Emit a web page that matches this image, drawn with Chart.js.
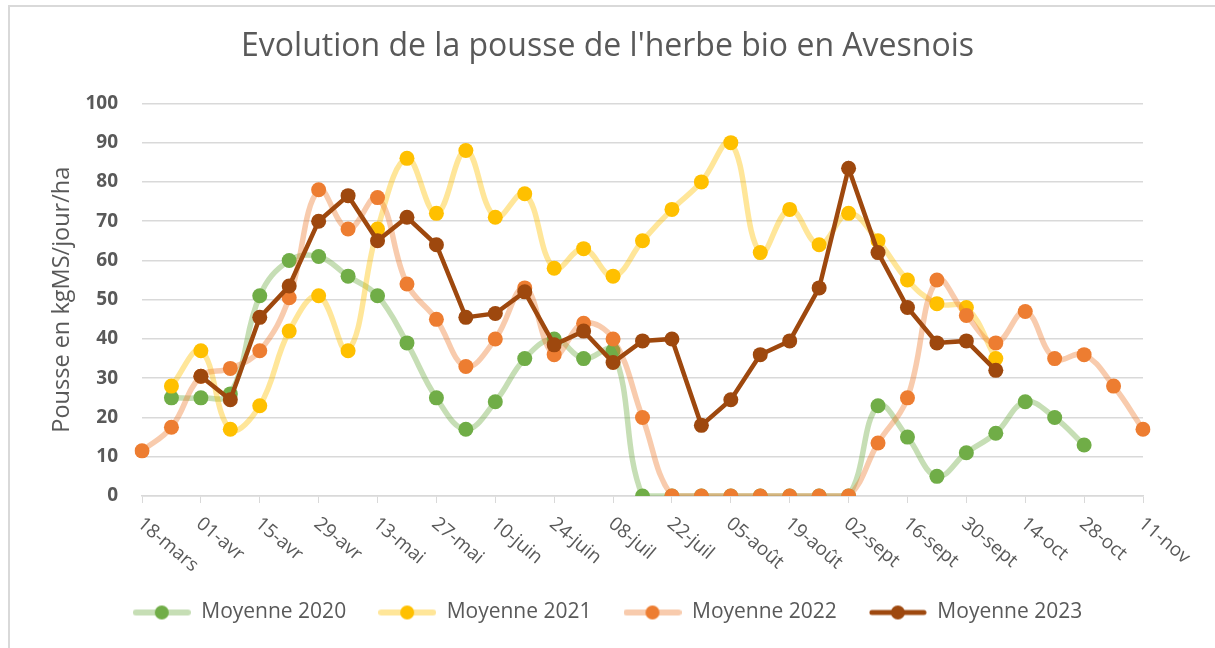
<!DOCTYPE html>
<html>
<head>
<meta charset="utf-8">
<script src="https://cdn.jsdelivr.net/npm/chart.js@4/dist/chart.umd.min.js"></script>
<style>
  body { margin: 0; background: #fff; }
  #wrap { position: relative; width: 1215px; height: 648px; }
  #cadre { position: absolute; left: 8px; top: 5px; right: 0; bottom: 0;
           border-top: 2px solid #d9d9d9; border-left: 2px solid #d9d9d9; pointer-events: none; }
</style>
</head>
<body>
<div id="wrap">
  <canvas id="myChart"></canvas>
  <div id="cadre"></div>
</div>
<script>
// semaines (une étiquette sur deux affichée)
const semaines = ['18-mars', '25-mars', '01-avr', '08-avr', '15-avr', '22-avr', '29-avr', '06-mai',
  '13-mai', '20-mai', '27-mai', '03-juin', '10-juin', '17-juin', '24-juin', '01-juil', '08-juil',
  '15-juil', '22-juil', '29-juil', '05-août', '12-août', '19-août', '26-août', '02-sept', '09-sept',
  '16-sept', '23-sept', '30-sept', '07-oct', '14-oct', '21-oct', '28-oct', '04-nov', '11-nov'];

const moy2020 = [null, 25, 25, 26, 51, 60, 61, 56, 51, 39, 25, 17, 24, 35, 40, 35, 37,
  0, 0, 0, 0, 0, 0, 0, 0, 23, 15, 5, 11, 16, 24, 20, 13, null, null];
const moy2021 = [null, 28, 37, 17, 23, 42, 51, 37, 68, 86, 72, 88, 71, 77, 58, 63, 56,
  65, 73, 80, 90, 62, 73, 64, 72, 65, 55, 49, 48, 35, null, null, null, null, null];
const moy2022 = [11.5, 17.5, 30.5, 32.5, 37, 50.5, 78, 68, 76, 54, 45, 33, 40, 53, 36, 44, 40,
  20, 0, 0, 0, 0, 0, 0, 0, 13.5, 25, 55, 46, 39, 47, 35, 36, 28, 17];
const moy2023 = [null, null, 30.5, 24.5, 45.5, 53.5, 70, 76.5, 65, 71, 64, 45.5, 46.5, 52, 38.5, 42, 34,
  39.5, 40, 18, 24.5, 36, 39.5, 53, 83.5, 62, 48, 39, 39.5, 32, null, null, null, null, null];

const police = '"Open Sans", "Liberation Sans", sans-serif';
const gris = '#595959';

// petit dessin ligne + rond pour la légende
const marqueur = (ligne, rond, epais) => {
  let c = document.createElement('canvas');
  c.width = 58; c.height = 18;
  let g = c.getContext('2d');
  g.strokeStyle = ligne; g.lineWidth = epais; g.lineCap = 'round';
  g.beginPath(); g.moveTo(3, 9); g.lineTo(55, 9); g.stroke();
  g.fillStyle = rond;
  g.beginPath(); g.arc(29, 9, 7, 0, Math.PI * 2); g.fill();
  return c;
};

const series = [
  { label: 'Moyenne 2020', data: moy2020, ligne: 'rgba(112,173,71,0.4)', rond: '#70AD47', lisse: true, order: 3 },
  { label: 'Moyenne 2021', data: moy2021, ligne: 'rgba(255,192,0,0.4)', rond: '#FFC000', lisse: true, order: 2 },
  { label: 'Moyenne 2022', data: moy2022, ligne: 'rgba(237,125,49,0.4)', rond: '#ED7D31', lisse: true, order: 1 },
  { label: 'Moyenne 2023', data: moy2023, ligne: '#9E480E', rond: '#9E480E', lisse: false, order: 0 }
];

const datasets = series.map(s => ({
  label: s.label,
  data: s.data,
  order: s.order,
  borderColor: s.ligne,
  borderWidth: s.lisse ? 5.5 : 4.5,
  backgroundColor: s.rond,
  pointBackgroundColor: s.rond,
  pointBorderWidth: 0,
  pointRadius: 7.5,
  tension: s.lisse ? 0.4 : 0,
  fill: false,
  legendMarker: marqueur(s.ligne, s.rond, s.lisse ? 6 : 5)
}));

// étiquettes de l'axe des x inclinées vers le bas à droite
const etiquettesX = {
  id: 'etiquettesX',
  afterDraw(chart) {
    const x = chart.scales.x;
    const c = chart.ctx;
    c.save();
    c.font = '19px ' + police;
    c.fillStyle = gris;
    c.textAlign = 'left';
    c.textBaseline = 'top';
    semaines.forEach((lab, i) => {
      if (i % 2 !== 0) return;
      const px = x.getPixelForValue(i);
      c.save();
      c.translate(px + 4, x.top + 18);
      c.rotate(40 * Math.PI / 180);
      c.fillText(lab, 0, 0);
      c.restore();
    });
    c.restore();
  }
};

const ctx = document.querySelector('#myChart');

new Chart(ctx, {
  type: 'line',
  data: { labels: semaines, datasets: datasets },
  options: {
    responsive: true,
    maintainAspectRatio: false,
    animation: false,
    layout: { padding: { left: 0, right: 0, top: 0, bottom: 15 } },
    plugins: {
      title: {
        display: true,
        text: "Evolution de la pousse de l'herbe bio en Avesnois",
        color: gris,
        font: { family: police, size: 32, weight: 'normal' },
        padding: { top: 28, bottom: 37 }
      },
      legend: {
        position: 'bottom',
        labels: {
          usePointStyle: true,
          pointStyleWidth: 58,
          padding: 32,
          color: gris,
          font: { family: police, size: 21 },
          generateLabels: (chart) => chart.data.datasets.map((ds, i) => ({
            text: ds.label,
            fontColor: gris,
            pointStyle: ds.legendMarker,
            datasetIndex: i,
            hidden: false,
            lineWidth: 0
          }))
        }
      },
      tooltip: { enabled: false }
    },
    scales: {
      x: {
        type: 'category',
        ticks: { display: false, autoSkip: false },
        grid: {
          drawOnChartArea: false,
          drawTicks: true,
          tickLength: 7,
          color: (c) => c.index % 2 === 0 ? '#d9d9d9' : 'rgba(0,0,0,0)'
        },
        border: { color: '#d9d9d9', width: 1.5 },
        afterFit: (s) => { s.height = 74; }
      },
      y: {
        min: 0,
        max: 100,
        ticks: {
          stepSize: 10,
          padding: 24,
          color: gris,
          font: { family: police, size: 19, weight: 'bold' }
        },
        grid: { color: '#d9d9d9', lineWidth: 1.5, drawTicks: false },
        border: { display: false },
        title: {
          display: true,
          text: 'Pousse en kgMS/jour/ha',
          color: gris,
          font: { family: police, size: 23.5 },
          padding: { top: 48, bottom: 0 }
        },
        afterFit: (s) => { s.width = 142; }
      },
      // marge à droite de la zone de tracé
      droite: {
        axis: 'y',
        position: 'right',
        ticks: { display: false },
        grid: { display: false },
        border: { display: false },
        afterFit: (s) => { s.width = 72; }
      }
    }
  },
  plugins: [etiquettesX]
});
</script>
</body>
</html>
